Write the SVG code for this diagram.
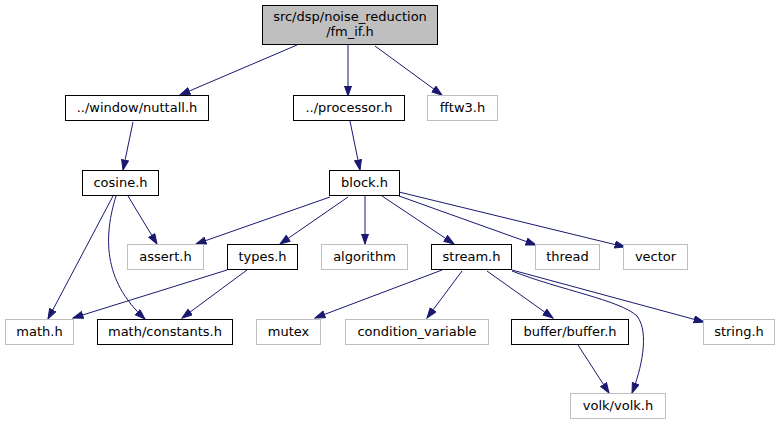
<svg xmlns="http://www.w3.org/2000/svg" width="780" height="425" viewBox="0 0 780 425">
<style>
text{font-family:"DejaVu Sans","Liberation Sans",sans-serif;font-size:13px;fill:#000;text-anchor:middle}
.doc{fill:#fff;stroke:#000;stroke-width:1}
.ext{fill:#fff;stroke:#bfbfbf;stroke-width:1}
.root{fill:#bfbfbf;stroke:#000;stroke-width:1}
.e{fill:none;stroke:#191970;stroke-width:1;marker-end:url(#ah)}
</style>
<defs>
<marker id="ah" markerUnits="userSpaceOnUse" markerWidth="12" markerHeight="9" refX="10.5" refY="4" orient="auto">
<path d="M0.5,0.5 L10.5,4 L0.5,7.5 z" fill="#191970" stroke="#191970"/>
</marker>
</defs>
<rect width="780" height="425" fill="#fff"/>
<g id="edges">
<path class="e" d="M297,45 L180,95"/>
<path class="e" d="M348,45 L348,96"/>
<path class="e" d="M375,46 L442,95"/>
<path class="e" d="M133,122 L123,170"/>
<path class="e" d="M128,196 L157,244"/>
<path class="e" d="M113,196 L48,319"/>
<path class="e" d="M116,196 C104,235 102,280 145,319"/>
<path class="e" d="M350,121 L360,170"/>
<path class="e" d="M330,197 L196,244"/>
<path class="e" d="M348,197 L280,244"/>
<path class="e" d="M365,196 L365,244"/>
<path class="e" d="M382,196 L454,244"/>
<path class="e" d="M399,196 L536,245"/>
<path class="e" d="M399,192 L625,247"/>
<path class="e" d="M227,270 L73,318"/>
<path class="e" d="M247,270 L182,318"/>
<path class="e" d="M442,270 L315,318"/>
<path class="e" d="M462,271 L427,318"/>
<path class="e" d="M487,271 L553,318"/>
<path class="e" d="M512,270 L704,322"/>
<path class="e" d="M512,271 C560,290 620,300 637,316 C650,333 641,370 632,393"/>
<path class="e" d="M578,345 L609,393"/>
</g>
<g id="n_root"><rect class="root" x="262.5" y="5.5" width="175" height="39"/><text x="350" y="21">src/dsp/noise_reduction</text><text x="350" y="36">/fm_if.h</text></g>
<g id="n_nuttall"><rect class="doc" x="65.5" y="95.5" width="143" height="25"/><text x="137" y="112">../window/nuttall.h</text></g>
<g id="n_processor"><rect class="doc" x="293.5" y="95.5" width="111" height="25"/><text x="349" y="112">../processor.h</text></g>
<g id="n_fftw3"><rect class="ext" x="427.5" y="95.5" width="70" height="25"/><text x="462.5" y="112">fftw3.h</text></g>
<g id="n_cosine"><rect class="doc" x="82.5" y="170.5" width="76" height="25"/><text x="120.5" y="187">cosine.h</text></g>
<g id="n_block"><rect class="doc" x="329.5" y="170.5" width="70" height="25"/><text x="364.5" y="187">block.h</text></g>
<g id="n_assert"><rect class="ext" x="127.5" y="244.5" width="76" height="25"/><text x="165.5" y="261">assert.h</text></g>
<g id="n_types"><rect class="doc" x="227.5" y="244.5" width="70" height="25"/><text x="262.5" y="261">types.h</text></g>
<g id="n_algorithm"><rect class="ext" x="321.5" y="244.5" width="86" height="25"/><text x="364.5" y="261">algorithm</text></g>
<g id="n_stream"><rect class="doc" x="431.5" y="244.5" width="80" height="25"/><text x="471.5" y="261">stream.h</text></g>
<g id="n_thread"><rect class="ext" x="535.5" y="244.5" width="64" height="25"/><text x="567.5" y="261">thread</text></g>
<g id="n_vector"><rect class="ext" x="623.5" y="244.5" width="64" height="25"/><text x="655.5" y="261">vector</text></g>
<g id="n_math"><rect class="ext" x="5.5" y="319.5" width="68" height="25"/><text x="39.5" y="336">math.h</text></g>
<g id="n_constants"><rect class="doc" x="97.5" y="319.5" width="135" height="25"/><text x="165" y="336">math/constants.h</text></g>
<g id="n_mutex"><rect class="ext" x="256.5" y="319.5" width="64" height="25"/><text x="288.5" y="336">mutex</text></g>
<g id="n_condvar"><rect class="ext" x="345.5" y="319.5" width="143" height="25"/><text x="417" y="336">condition_variable</text></g>
<g id="n_buffer"><rect class="doc" x="511.5" y="319.5" width="117" height="25"/><text x="570" y="336">buffer/buffer.h</text></g>
<g id="n_string"><rect class="ext" x="703.5" y="319.5" width="71" height="25"/><text x="739" y="336">string.h</text></g>
<g id="n_volk"><rect class="ext" x="570.5" y="393.5" width="95" height="25"/><text x="618" y="410">volk/volk.h</text></g>
</svg>
